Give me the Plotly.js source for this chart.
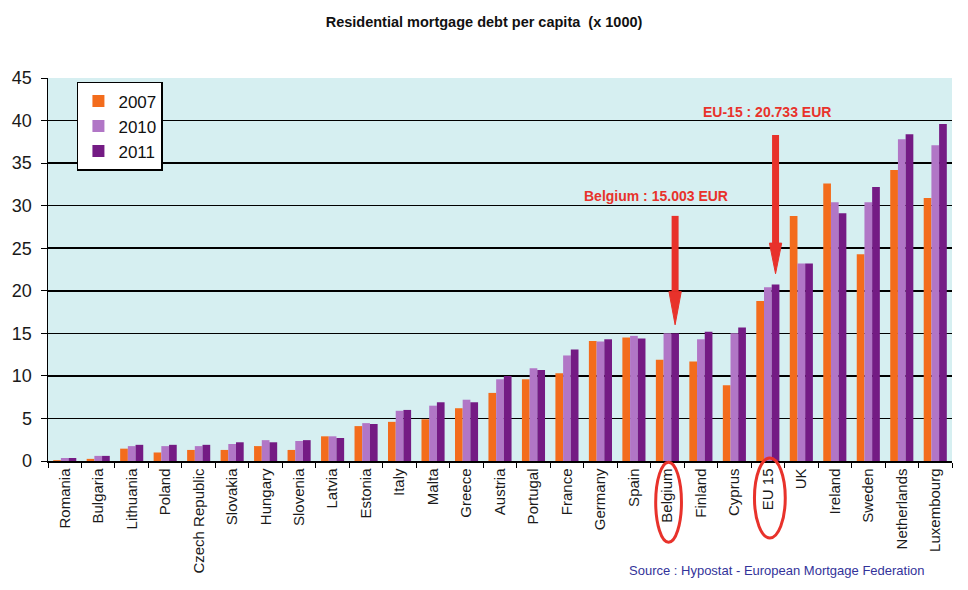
<!DOCTYPE html>
<html>
<head>
<meta charset="utf-8">
<script src="https://cdn.plot.ly/plotly-3.0.1.min.js"></script>
<style>html,body{margin:0;padding:0;background:#fff;}#chart{width:968px;height:590px;}</style>
</head>
<body>
<div id="chart"></div>
<script>
var countries = ["Romania","Bulgaria","Lithuania","Poland","Czech Republic","Slovakia","Hungary","Slovenia","Latvia","Estonia","Italy","Malta","Greece","Austria","Portugal","France","Germany","Spain","Belgium","Finland","Cyprus","EU 15","UK","Ireland","Sweden","Netherlands","Luxembourg"];
var v2007 = [0.1,0.25,1.45,1.0,1.3,1.3,1.75,1.3,2.9,4.1,4.6,4.9,6.2,8.0,9.6,10.3,14.1,14.5,11.9,11.7,8.9,18.8,28.8,32.6,24.3,34.2,30.9];
var v2010 = [0.35,0.6,1.75,1.75,1.75,2.0,2.45,2.35,2.9,4.45,5.9,6.5,7.2,9.6,10.9,12.4,14.05,14.7,15.0,14.3,15.0,20.4,23.2,30.4,30.4,37.8,37.1];
var v2011 = [0.35,0.6,1.9,1.9,1.9,2.2,2.2,2.45,2.7,4.35,6.0,6.9,6.9,10.0,10.7,13.1,14.3,14.4,15.003,15.2,15.7,20.733,23.2,29.1,32.2,38.4,39.6];
var years = ["2007","2010","2011"];
var colors = ["#F36C1C","#B176C6","#741B84"];

var series = [v2007, v2010, v2011];
var traces = series.map(function(v, i){
  return {type:'bar', name:years[i], x:countries, y:v, marker:{color:colors[i]}};
});

var N = countries.length;
var red = "#E8322B";
function arrowShapes(idx, tail, base, tip){
  var xp = (idx + 0.5 + 0.23) / N;
  var hw = 0.0068;
  return [
    {type:'line', xref:'paper', yref:'y', x0:xp, x1:xp, y0:tail, y1:base, line:{color:red, width:7}},
    {type:'path', xref:'paper', yref:'y', path:'M '+(xp-hw)+','+base+' L '+(xp+hw)+','+base+' L '+xp+','+tip+' Z', fillcolor:red, line:{color:red, width:1}}
  ];
}
var iBel = countries.indexOf("Belgium");
var iEU = countries.indexOf("EU 15");
var shapes = [].concat(
  arrowShapes(iBel, 28.8, 19.9, 16.0),
  arrowShapes(iEU, 38.3, 25.6, 22.0),
  [
    {type:'circle', xref:'paper', yref:'paper', x0:(iBel+0.15)/N, x1:(iBel+0.92)/N, y0:-0.003, y1:-0.212, line:{color:red, width:3}},
    {type:'circle', xref:'paper', yref:'paper', x0:(iEU+0.1)/N, x1:(iEU+1.02)/N, y0:0.008, y1:-0.201, line:{color:red, width:3}}
  ]
);

var layout = {
  width:968, height:590,
  margin:{l:48, r:16, t:78, b:129},
  paper_bgcolor:'#FFFFFF',
  plot_bgcolor:'#D6EFF1',
  font:{family:'Liberation Sans, Arial, sans-serif', color:'#1a1a1a'},
  title:{text:'<b>Residential mortgage debt per capita  (x 1000)</b>', font:{size:14.5, color:'#111'}, x:0.5, xanchor:'center', y:0.962, yanchor:'middle'},
  barmode:'group', bargap:0.31, bargroupgap:0,
  xaxis:{type:'category', tickangle:-90, tickfont:{size:15, color:'#1a1a1a'}, ticks:'outside', tickson:'boundaries', ticklen:5, tickcolor:'#000', showline:true, linecolor:'#000', linewidth:1.5, showgrid:false, fixedrange:true},
  yaxis:{range:[0,45], dtick:5, tickfont:{size:18, color:'#1a1a1a'}, ticks:'outside', ticklen:6, tickcolor:'#000', ticklabelstandoff:5, showline:true, linecolor:'#000', linewidth:1.5, showgrid:true, gridcolor:'#000', gridwidth:1.5, zeroline:false, fixedrange:true},
  legend:{x:0.032, y:0.99, xanchor:'left', yanchor:'top', bgcolor:'#FFFFFF', bordercolor:'#000', borderwidth:1.5, font:{size:17, color:'#111'}, itemwidth:30, tracegroupgap:0},
  shapes:shapes,
  annotations:[
    {xref:'paper', yref:'paper', x:0.6726, y:0.692, text:'<b>Belgium : 15.003 EUR</b>', showarrow:false, font:{size:14, color:red}, xanchor:'center', yanchor:'middle'},
    {xref:'paper', yref:'paper', x:0.795, y:0.911, text:'<b>EU-15 : 20.733 EUR</b>', showarrow:false, font:{size:14, color:red}, xanchor:'center', yanchor:'middle'},
    {xref:'paper', yref:'paper', x:0.972, y:-0.285, text:'Source : Hypostat - European Mortgage Federation', showarrow:false, font:{size:13, color:'#33339A'}, xanchor:'right', yanchor:'middle'}
  ]
};
Plotly.newPlot('chart', traces, layout, {displayModeBar:false, staticPlot:true});
</script>
</body>
</html>
